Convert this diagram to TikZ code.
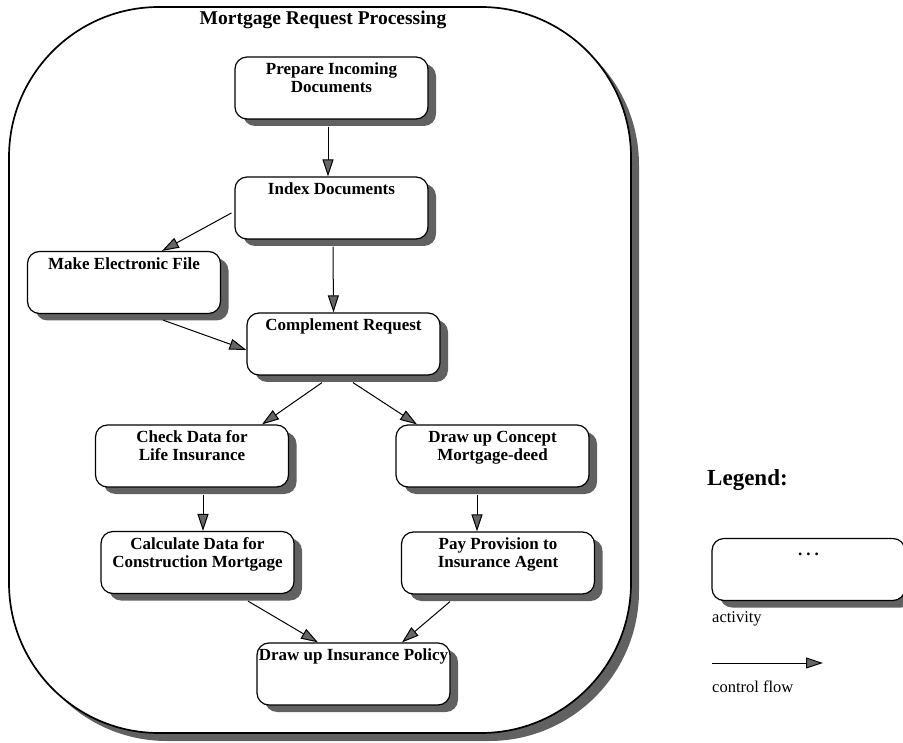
\documentclass[tikz,border=0pt]{standalone}
\usepackage{fontspec}
\setmainfont{Liberation Serif}
\usetikzlibrary{arrows.meta,shadows}
% activity label: text sits at the top of the box
\newcommand{\acttext}[1]{\parbox[c][50pt][t]{190pt}{\centering #1}}
\begin{document}
\begin{tikzpicture}[x=1pt,y=-1pt,
  activity/.style={draw, line width=1.2pt, rounded corners=12pt, fill=white,
    minimum width=193pt, minimum height=62pt, inner sep=0pt,
    font=\bfseries\fontsize{17}{18}\selectfont,
    drop shadow={shadow xshift=8pt, shadow yshift=-7pt, fill=black!62, opacity=1}},
  process/.style={draw, line width=1.7pt, rounded corners=150pt, fill=white,
    minimum width=622pt, minimum height=726pt, inner sep=0pt,
    drop shadow={shadow xshift=8pt, shadow yshift=-8pt, fill=black!62, opacity=1}},
  flow/.style={line width=1pt, -{Triangle[length=17pt,width=11pt,fill=black!60]}},
  plain/.style={font=\fontsize{16.5}{18}\selectfont, anchor=west, inner sep=0pt},
]
\useasboundingbox (0,0) rectangle (903,743);

% enclosing process
\node[process] (proc) at (320,370) {};
\node[font=\bfseries\fontsize{19.5}{21}\selectfont, inner sep=0pt] (title) at (323,20) {Mortgage Request Processing};

% activities
\node[activity] (prep)    at (331.5,88)  {\acttext{Prepare Incoming\\Documents}};
\node[activity] (index)   at (331.5,208) {\acttext{Index Documents}};
\node[activity] (efile)   at (124,282.5) {\acttext{Make Electronic File}};
\node[activity] (compl)   at (343.5,344) {\acttext{Complement Request}};
\node[activity] (check)   at (192,456)   {\acttext{Check Data for\\Life Insurance}};
\node[activity] (concept) at (492.5,456) {\acttext{Draw up Concept\\Mortgage-deed}};
\node[activity] (calc)    at (197.5,562.5) {\acttext{Calculate Data for\\Construction Mortgage}};
\node[activity] (pay)     at (498,563)   {\acttext{Pay Provision to\\Insurance Agent}};
\node[activity] (policy)  at (353.5,674) {\acttext{Draw up Insurance Policy}};

% control flow
\draw[flow] ([shift={(-3.5pt,-7pt)}]prep.south) -- ([xshift=-3.5pt]index.north);
\draw[flow] ([shift={(-3pt,-5pt)}]index.west) -- ([xshift=38pt]efile.north);
\draw[flow] ([shift={(1.5pt,-7pt)}]index.south) -- ([xshift=-10pt]compl.north);
\draw[flow] ([shift={(39pt,-6pt)}]efile.south) -- ([yshift=-6pt]compl.west);
\draw[flow] ([shift={(-21.5pt,-7pt)}]compl.south) -- ([xshift=70pt]check.north);
\draw[flow] ([shift={(9.5pt,-7pt)}]compl.south) -- ([xshift=-75.5pt]concept.north);
\draw[flow] ([shift={(11pt,-7pt)}]check.south) -- ([xshift=5.5pt]calc.north);
\draw[flow] ([shift={(-15.5pt,-7pt)}]concept.south) -- ([xshift=-21pt]pay.north);
\draw[flow] ([shift={(50.5pt,-7pt)}]calc.south) -- ([xshift=-35.5pt]policy.north);
\draw[flow] ([shift={(-48pt,-7pt)}]pay.south) -- ([xshift=48.5pt]policy.north);

% legend
\node[font=\bfseries\fontsize{23}{25}\selectfont, anchor=west, inner sep=0pt] (legend) at (707,480) {Legend:};
\node[activity] (sample) at (808.5,569.5) {\acttext{\vphantom{Ag}.\hspace{4pt}.\hspace{4pt}.}};
\node[plain] (actlabel) at (712,619) {activity};
\coordinate (flowstart) at (712,663);
\coordinate (flowend) at (823,663);
\draw[flow] (flowstart) -- (flowend);
\node[plain] (flowlabel) at (712,687) {control flow};
\end{tikzpicture}
\end{document}
